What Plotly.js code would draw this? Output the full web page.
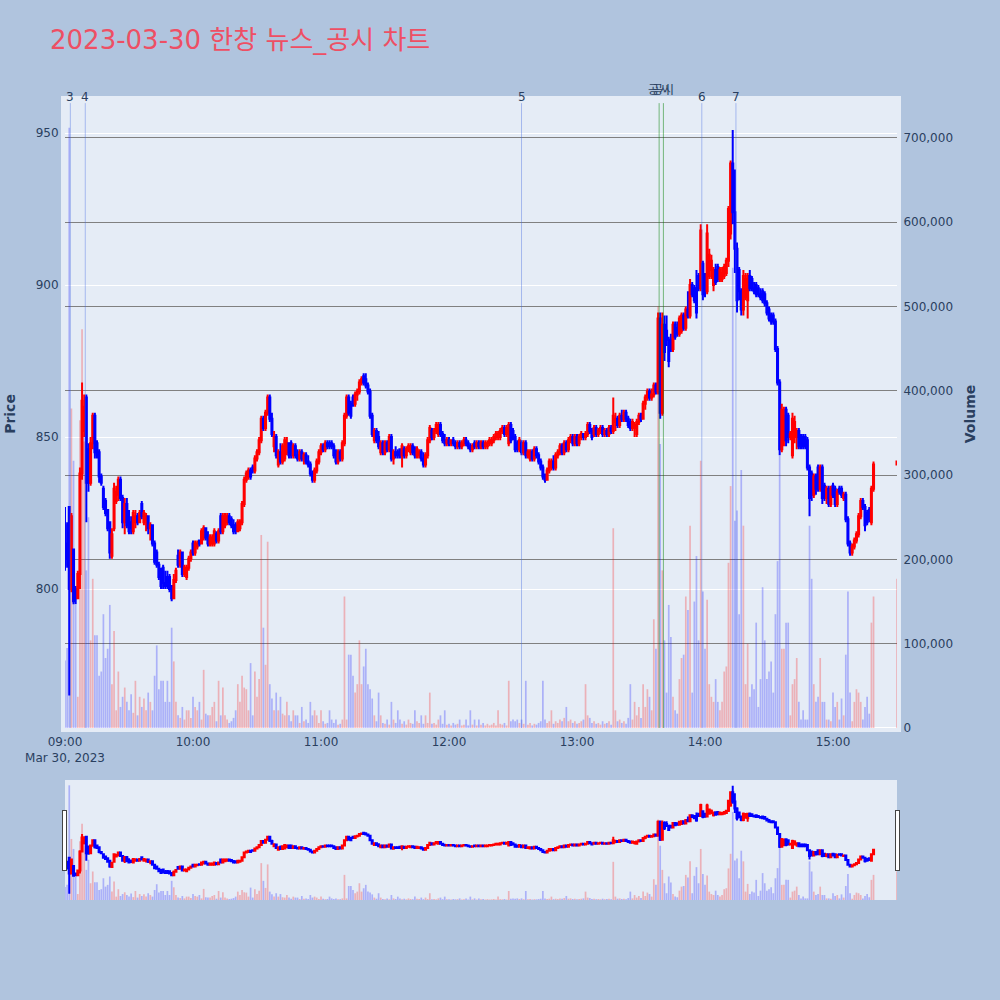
<!DOCTYPE html>
<html><head><meta charset="utf-8">
<script src="https://cdn.plot.ly/plotly-3.0.1.min.js"></script>
<style>body{margin:0;background:#B0C4DE}</style>
</head><body>
<div id="chart" style="width:1000px;height:1000px"></div>
<script>
// 1-minute candles, 09:00 .. 15:19, plus the 15:30 closing auction
const openP = [
821,815,827,800,813,800,797,805,838,852,
863,846,835,848,857,848,845,837,833,829,
826,822,811,820,829,831,836,830,822,828,
821,822,819,822,824,822,828,822,823,824,
820,821,815,812,808,806,807,802,804,804,
801,797,803,811,808,812,805,804,807,810,
815,812,814,816,815,817,820,817,815,815,
815,818,816,824,819,821,822,824,823,821,
821,819,820,822,828,836,837,839,840,839,
843,845,849,856,853,858,863,856,847,850,
841,845,842,843,845,848,848,844,847,844,
843,845,843,844,842,841,838,836,839,842,
845,847,846,848,848,848,847,845,842,845,
843,848,857,863,861,863,861,864,865,868,
870,869,867,865,857,849,852,850,845,848,
845,848,846,850,843,845,845,846,844,846,
844,846,845,847,846,844,844,845,843,841,
844,849,852,850,852,851,854,851,849,848,
849,848,849,848,847,848,847,848,849,848,
847,846,848,847,848,847,848,847,847,848,
848,849,850,850,850,852,853,851,848,854,
852,850,848,846,848,845,848,844,843,845,
843,846,844,842,840,837,836,839,840,842,
840,844,845,847,845,848,846,849,850,848,
850,848,850,851,850,851,854,852,851,853,
851,852,853,851,852,851,853,852,855,856,
854,857,856,858,856,855,853,853,851,855,
857,856,861,863,865,863,864,867,865,889,
858,887,885,882,882,879,887,886,884,885,
890,886,892,890,900,899,899,903,899,907,
903,898,903,905,900,905,906,902,902,903,
904,908,917,940,924,912,905,898,892,896,
895,903,902,899,900,899,897,898,897,894,
892,890,890,888,879,868,846,849,859,857,
850,844,850,850,852,850,850,850,849,840,
838,831,837,840,833,840,834,830,833,828,
834,833,828,833,833,830,831,823,815,812,
814,816,818,824,829,827,825,826,822,833,
841];
const highP = [
827,822,827,825,813,801,806,840,868,864,
864,848,850,858,858,849,846,838,834,830,
826,822,820,835,834,837,837,831,830,830,
826,824,826,826,825,826,829,826,825,824,
822,821,816,813,809,807,808,806,806,805,
801,805,807,813,813,812,808,808,811,813,
816,816,816,816,820,821,820,819,818,818,
820,819,820,825,825,825,825,825,824,823,
822,823,823,829,837,839,840,840,841,844,
846,850,857,857,859,864,864,858,852,851,
846,848,848,850,850,848,849,848,848,846,
846,846,845,845,844,842,839,840,843,846,
848,848,849,849,849,849,848,846,846,846,
849,858,864,864,862,864,865,866,869,870,
871,871,868,866,858,853,853,852,849,849,
849,849,851,851,846,847,846,846,848,847,
847,848,848,848,847,847,846,846,845,845,
850,854,853,853,855,855,855,852,851,850,
850,849,850,849,849,849,849,850,850,849,
848,848,849,849,849,849,849,849,849,850,
850,851,852,852,853,854,854,854,855,855,
853,851,849,850,849,849,849,846,846,846,
847,847,845,843,841,838,840,843,843,844,
845,846,848,848,849,849,850,851,851,851,
851,851,852,851,852,855,855,853,854,854,
853,854,854,853,853,854,854,863,858,857,
858,859,859,859,857,856,856,855,856,858,
858,862,864,866,866,866,868,868,891,891,
891,890,890,883,884,888,888,888,890,891,
891,893,898,902,901,900,905,904,920,908,
904,920,912,910,906,907,907,906,906,907,
909,926,941,951,938,914,906,899,905,904,
904,905,903,901,901,900,899,899,898,895,
893,891,891,889,880,869,861,860,860,858,
852,858,857,853,853,851,851,851,850,841,
839,838,838,841,841,841,835,834,834,834,
835,834,833,834,834,832,832,824,816,815,
817,819,825,830,830,828,826,827,834,842,
842];
const lowP = [
806,807,765,799,795,795,797,800,836,850,
822,832,834,846,843,843,835,834,826,824,
819,810,810,819,828,829,829,820,818,820,
818,818,818,820,821,822,823,821,819,818,
816,814,808,807,803,800,800,800,800,799,
796,797,802,807,807,804,804,803,806,809,
811,811,813,814,815,816,816,814,814,814,
814,815,815,818,818,820,821,821,820,818,
818,819,819,821,827,835,836,836,838,838,
842,844,848,852,852,857,855,850,845,843,
840,841,841,842,844,843,843,843,843,842,
842,842,841,841,840,837,835,835,838,841,
844,845,845,846,846,846,843,841,841,842,
842,847,856,857,856,860,860,862,864,867,
867,866,864,856,850,848,848,846,844,844,
844,845,845,842,841,843,843,843,840,843,
843,845,844,844,843,843,843,842,840,840,
843,848,849,849,851,850,850,848,847,847,
847,847,847,846,846,846,846,847,847,846,
845,845,846,846,846,846,846,846,846,847,
847,848,849,849,849,851,850,850,847,848,
849,845,845,845,844,844,843,843,842,842,
842,843,841,839,836,835,836,838,839,839,
839,843,844,844,844,845,845,848,847,847,
847,847,849,849,849,850,851,849,850,850,
850,851,850,850,850,850,851,851,852,853,
853,855,855,855,853,852,852,850,850,854,
855,856,859,862,862,862,863,864,864,856,
857,875,880,873,878,878,882,883,883,884,
885,885,889,889,896,894,889,898,898,895,
896,897,902,902,898,900,901,901,901,902,
903,906,915,920,904,891,895,890,890,895,
889,898,898,897,896,896,895,894,893,890,
888,887,887,878,867,844,845,847,847,848,
849,843,848,846,846,846,846,846,839,824,
829,830,831,832,832,828,829,828,827,827,
830,827,827,831,830,829,822,814,811,811,
813,815,817,823,826,819,821,822,821,832,
841];
const closeP = [
808,810,800,824,796,797,805,838,862,860,
835,835,848,857,845,844,837,835,827,825,
820,812,818,833,832,836,830,822,828,821,
819,820,825,824,822,825,824,825,824,820,
821,815,809,808,804,801,802,801,801,800,
797,803,806,808,812,805,807,807,810,812,
812,815,815,815,819,820,817,815,817,817,
819,816,819,819,824,824,824,822,821,819,
819,822,822,828,836,838,839,837,839,843,
845,849,856,853,858,863,856,851,850,844,
845,842,847,849,848,844,844,847,844,843,
845,843,844,842,841,838,836,839,842,845,
847,846,848,847,847,847,844,842,845,843,
848,857,863,858,857,861,864,865,868,869,
868,867,865,857,851,852,849,847,848,845,
848,846,850,843,845,844,844,844,847,844,
846,847,847,845,844,846,845,843,841,844,
849,853,850,852,854,854,851,849,848,849,
848,849,848,847,848,847,848,849,848,847,
846,847,847,848,847,848,847,848,848,849,
849,850,851,851,852,853,851,853,854,849,
850,846,846,849,845,848,844,845,845,843,
846,844,842,840,837,836,839,842,842,840,
844,845,847,845,848,846,849,850,848,850,
848,850,851,850,851,854,852,850,853,851,
852,853,851,852,851,853,852,857,856,854,
857,856,858,856,854,853,855,854,855,857,
856,861,863,865,863,864,867,865,889,858,
887,878,882,875,879,887,883,884,889,890,
886,892,890,900,897,895,891,899,918,897,
898,917,910,908,905,901,902,905,904,906,
908,925,940,924,912,895,898,892,903,902,
903,899,899,898,897,897,896,895,894,891,
889,888,888,879,868,846,859,857,849,850,
851,856,855,852,847,847,847,847,840,830,
831,837,833,833,840,830,830,833,828,833,
831,828,832,832,831,831,823,815,812,814,
816,818,824,829,827,821,822,823,833,841,
842];
// volume in thousands of shares
const volumeK = [
80,95,712,379,317,146,37,365,473,340,
187,250,104,177,110,110,62,67,135,83,
94,146,52,115,21,67,25,37,48,31,
21,40,18,56,15,37,25,35,21,42,
31,21,62,98,46,56,56,31,56,31,
119,79,31,15,12,25,10,21,21,12,
37,25,21,31,10,69,17,15,15,25,
31,8,56,15,48,15,10,6,8,12,
21,52,31,62,48,46,21,77,15,67,
37,58,229,119,75,221,52,35,21,42,
21,37,17,15,31,15,8,21,15,15,
6,25,8,10,6,31,15,21,15,6,
21,8,5,6,21,10,6,10,4,5,
10,156,10,87,87,62,42,52,104,52,
73,94,52,46,35,15,8,42,15,6,
5,10,4,31,10,6,21,10,5,8,
4,10,6,5,21,8,6,15,5,15,
6,42,5,6,4,10,15,5,21,4,
5,3,6,4,5,10,3,4,10,3,
21,4,10,3,10,4,6,3,5,3,
4,6,3,21,5,4,6,3,56,8,
10,8,10,6,10,5,56,4,6,3,
5,4,6,8,56,10,6,8,21,5,
8,6,10,8,12,25,8,10,6,8,
5,6,8,10,52,15,12,6,8,5,
6,4,8,5,6,8,4,237,21,8,
10,6,8,5,12,52,10,31,15,25,
12,52,25,46,37,21,129,94,500,337,
187,104,42,146,108,37,21,17,58,83,
87,156,140,240,42,150,204,104,317,162,
94,152,52,37,31,58,31,21,31,67,
73,196,287,546,246,258,135,306,240,52,
100,37,52,46,125,25,58,167,104,58,
67,79,42,135,198,323,94,94,125,125,
15,52,58,83,31,10,21,10,10,240,
177,52,31,37,83,31,31,10,10,8,
42,25,31,10,35,15,87,162,42,8,
31,46,42,31,10,25,37,17,125,156,
177];

const tradeDate = '2023-03-30';
const sessionMinutes = 380;          // 09:00 .. 15:19
const closingAuction = '15:30';

const newsTimes  = ['09:02:30', '09:09:30', '12:34:00', '13:58:30', '14:14:30'];
const newsLabels = ['3', '4', '5', '6', '7'];
const filingTimes  = ['13:38:30', '13:40:30'];
const filingLabels = ['공시', '공시'];

function pad(n) { return String(n).padStart(2, '0'); }
const times = [];
for (let i = 0; i < sessionMinutes; i++) {
  times.push(`${tradeDate} ${pad(9 + Math.floor(i / 60))}:${pad(i % 60)}`);
}
times.push(`${tradeDate} ${closingAuction}`);

const volume = volumeK.map(v => v * 1000);
const volColors = closeP.map((c, i) => c >= openP[i] ? 'rgba(255,0,0,0.25)' : 'rgba(0,0,255,0.25)');

const candle = {
  type: 'candlestick', x: times, open: openP, high: highP, low: lowP, close: closeP,
  xaxis: 'x', yaxis: 'y', name: 'Price',
  increasing: {line: {color: 'red', width: 2}, fillcolor: 'red'},
  decreasing: {line: {color: 'blue', width: 2}, fillcolor: 'blue'},
  hoverinfo: 'skip'
};
const bars = {
  type: 'bar', x: times, y: volume, xaxis: 'x', yaxis: 'y2', name: 'Volume',
  marker: {color: volColors, line: {width: 0}}, hoverinfo: 'skip'
};

const xRange = [`${tradeDate} 09:00`, `${tradeDate} ${closingAuction}`];
const BG = '#E5ECF6';
const FONT = 'Verdana, "DejaVu Sans", "Noto Sans CJK KR", sans-serif';

const shapes = [];
const annotations = [];
newsTimes.forEach((t, i) => {
  shapes.push({type: 'line', xref: 'x', yref: 'paper', x0: `${tradeDate} ${t}`, x1: `${tradeDate} ${t}`,
    y0: 0, y1: 0.995, line: {color: 'rgba(65,105,225,0.4)', width: 1}});
  annotations.push({xref: 'x', yref: 'paper', x: `${tradeDate} ${t}`, y: 1.005, yanchor: 'middle',
    text: newsLabels[i], showarrow: false, font: {size: 12, color: '#2a3f5f'}});
});
filingTimes.forEach((t, i) => {
  shapes.push({type: 'line', xref: 'x', yref: 'paper', x0: `${tradeDate} ${t}`, x1: `${tradeDate} ${t}`,
    y0: 0, y1: 0.995, line: {color: 'rgba(0,128,0,0.5)', width: 1}});
  annotations.push({xref: 'x', yref: 'paper', x: `${tradeDate} ${t}`, y: 1.016, yanchor: 'middle',
    text: filingLabels[i], showarrow: false, font: {size: 12, color: '#2a3f5f'}});
});

const layout = {
  width: 1000, height: 1000,
  paper_bgcolor: '#B0C4DE', plot_bgcolor: BG,
  margin: {l: 65, r: 103, t: 100, b: 100},
  font: {family: FONT, size: 12, color: '#2a3f5f'},
  title: {text: '2023-03-30 한창 뉴스_공시 차트', x: 0.05, xanchor: 'left', y: 0.96, yref: 'container', yanchor: 'middle',
    font: {size: 26, color: '#EE4F64', family: FONT}},
  showlegend: false,
  bargap: 0.2,
  xaxis: {type: 'date', range: xRange, showgrid: false, zeroline: false,
    showline: true, linewidth: 4, linecolor: BG, mirror: true,
    rangeslider: {visible: true, range: xRange, bgcolor: BG, thickness: 0.15, borderwidth: 0}},
  yaxis: {title: {text: 'Price', font: {size: 14, weight: 'bold', color: '#2a3f5f'}, standoff: 18},
    range: [754.3, 960.9], dtick: 50, tick0: 0, gridcolor: 'white', gridwidth: 1, zeroline: false,
    showline: true, linewidth: 4, linecolor: BG, mirror: true},
  yaxis2: {title: {text: 'Volume', font: {size: 14, weight: 'bold', color: '#2a3f5f'}, standoff: 14},
    overlaying: 'y', side: 'right', range: [0, 745000], dtick: 100000, tickformat: ',',
    gridcolor: 'grey', gridwidth: 1, zeroline: true, zerolinecolor: 'white', zerolinewidth: 2,
    showline: true, linewidth: 4, linecolor: BG},
  shapes: shapes,
  annotations: annotations
};

Plotly.newPlot('chart', [bars, candle], layout, {displayModeBar: false});
</script>
</body></html>
